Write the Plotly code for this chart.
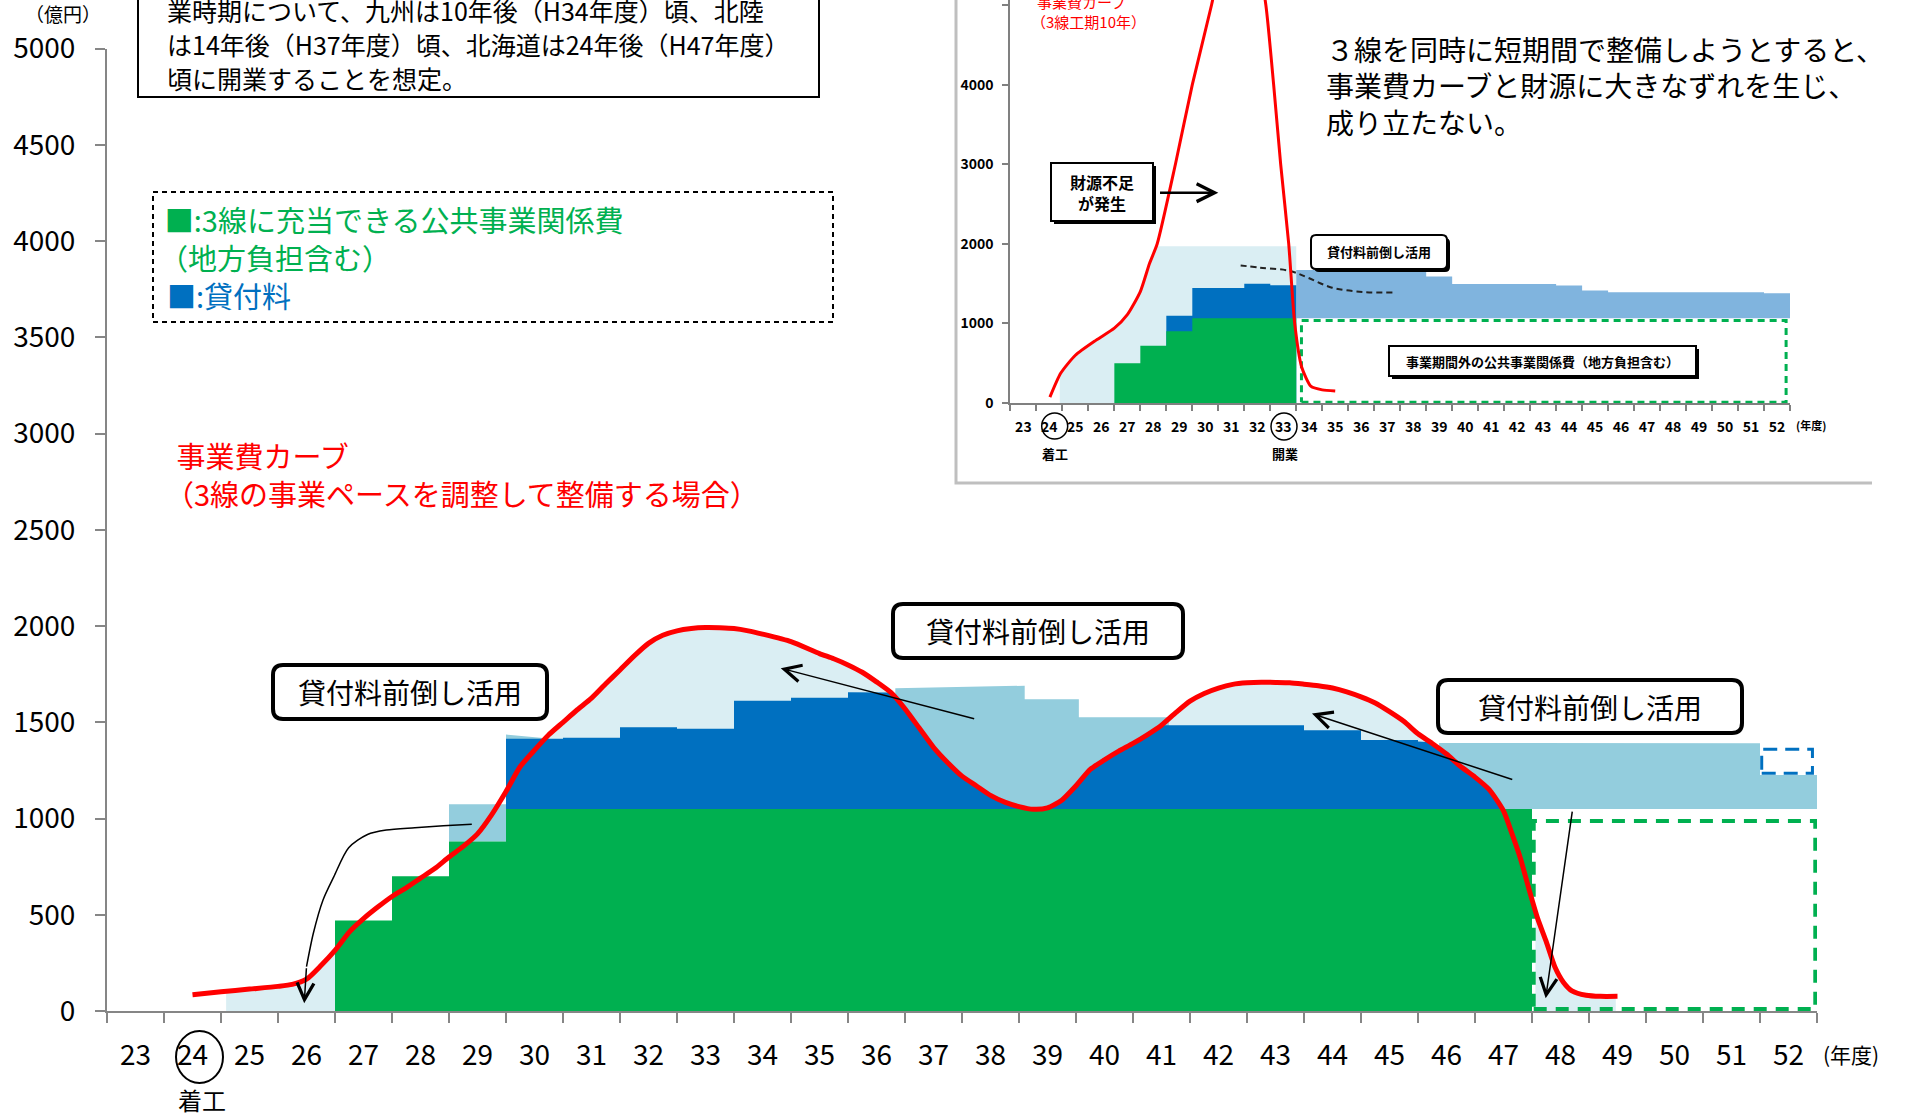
import numpy as np
import plotly.graph_objects as go

W, H = 1905, 1115
FONT = "Noto Sans CJK JP"

GREEN = "#00B050"
BLUE = "#0070C0"
MID = "#93CDDD"
PALE = "#DAEEF3"
INSET_MID = "#80B4DE"
RED = "#FF0000"
AXIS = "#868686"

# ================= main chart data =================
YEARS = list(range(23, 53))
YEAR_LABELS = [str(y) for y in YEARS]
Y_TICKS = [0, 500, 1000, 1500, 2000, 2500, 3000, 3500, 4000, 4500, 5000]

# 3線に充当できる公共事業関係費 (億円)
PUBLIC_YEARS = [27, 28, 29, 30, 31, 32, 33, 34, 35, 36, 37, 38, 39, 40, 41, 42, 43, 44, 45, 46, 47]
PUBLIC_VALUES = [470, 700, 880, 1050, 1050, 1050, 1050, 1050, 1050, 1050, 1050,
                 1050, 1050, 1050, 1050, 1050, 1050, 1050, 1050, 1050, 1050]

# 貸付料 (stacked on public works)
LOAN_YEARS = [30, 31, 32, 33, 34, 35, 36, 41, 42, 43, 44, 45, 46, 47]
LOAN_VALUES = [365, 370, 424, 416, 562, 578, 606, 435, 435, 435, 408, 358, 350, 350]

# 事業費カーブ (3線の事業ペースを調整して整備する場合)
CURVE_X = [24.0, 24.5, 25.0, 25.5, 25.75, 26.0, 26.25, 26.5, 26.75, 27.0, 27.25, 27.5, 27.75,
           28.0, 28.25, 28.5, 28.75, 29.0, 29.25, 29.5, 29.75, 30.0, 30.25, 30.5, 30.75,
           31.0, 31.25, 31.5, 31.75, 32.0, 32.25, 32.5, 32.75, 33.0, 33.25, 33.5, 33.75,
           34.0, 34.5, 35.0, 35.25, 35.5, 35.75, 36.0, 36.25, 36.5, 36.75, 37.0, 37.25,
           37.5, 37.75, 38.0, 38.25, 38.5, 38.75, 39.0, 39.25, 39.5, 39.75, 40.0, 40.25,
           40.5, 40.75, 41.0, 41.25, 41.5, 41.75, 42.0, 42.25, 42.5, 42.75, 43.0, 43.25,
           43.5, 43.75, 44.0, 44.25, 44.5, 44.75, 45.0, 45.25, 45.5, 45.75, 46.0, 46.25,
           46.5, 46.75, 47.0, 47.15, 47.3, 47.45, 47.6, 47.75, 47.9, 48.05, 48.2, 48.45,
           48.7, 49.0]
CURVE_Y = [85, 100, 114, 128, 138, 165, 235, 315, 410, 480, 540, 595, 640,
           690, 740, 800, 855, 920, 1020, 1140, 1270, 1355, 1435, 1500, 1565,
           1625, 1700, 1772, 1845, 1910, 1952, 1975, 1987, 1992, 1991, 1987, 1975,
           1958, 1919, 1857, 1830, 1798, 1760, 1710, 1655, 1570, 1470, 1370, 1290,
           1220, 1170, 1120, 1085, 1062, 1048, 1055, 1095, 1170, 1255, 1305, 1350,
           1390, 1435, 1485, 1550, 1610, 1650, 1678, 1697, 1705, 1708, 1707, 1705,
           1698, 1690, 1678, 1658, 1632, 1600, 1555, 1505, 1440, 1390, 1335, 1270,
           1215, 1150, 1040, 920, 790, 630, 480, 360, 230, 150, 105, 82,
           76, 76]

# 前倒し活用した貸付料 (areas)
MOVED_A_X = [28.5, 28.5, 29.5, 29.5]
MOVED_A_Y = [880, 1074, 1074, 880]
MOVED_B_X = [29.5, 29.5, 30.15, 30.15]
MOVED_B_Y = [1050, 1436, 1418, 1050]
MOVED_C_X = [36.33, 36.33, 38.6, 38.6, 39.55, 39.55, 41.13, 41.13]
MOVED_C_Y = [1050, 1677, 1690, 1619, 1619, 1526, 1526, 1050]
MOVED_D_X = [45.87, 45.87, 51.5, 51.5, 52.5, 52.5]
MOVED_D_Y = [1050, 1393, 1391, 1226, 1226, 1050]

# ranges where the curve area (above the bars) is shaded
PALE_SPANS = [(24.59, 26.5), (30.15, 36.35), (41.0, 45.9), (47.56, 48.97)]

# dashed boxes
OUT_BOX_X = [47.53, 52.47, 52.47, 47.53, 47.53]
OUT_BOX_Y = [10, 10, 987, 987, 10]
LOAN_BOX_X = [51.53, 52.42, 52.42, 51.53, 51.53]
LOAN_BOX_Y = [1235, 1235, 1360, 1360, 1235]

# arrows (tail -> head)
ARROWS = [((37.74, 1516), (34.32, 1781)),
          ((47.18, 1200), (43.64, 1545)),
          ((48.21, 1044), (47.74, 66))]
ARROW1_X = [28.9, 28.4, 27.9, 27.4, 27.07, 26.74, 26.48, 26.29, 26.12, 26.0]
ARROW1_Y = [970, 962, 952, 940, 917, 848, 698, 577, 404, 230]
ARROW1_HEAD = (25.96, 40)

# ================= inset data =================
IN_Y_TICKS = [0, 1000, 2000, 3000, 4000, 5000]
IN_CURVE_X = [24.02, 24.44, 25.0, 25.8, 26.5, 27.0, 27.5, 27.85, 28.15, 28.85, 29.5, 30.24,
              30.7, 31.3, 31.9, 32.33, 32.63, 32.9, 33.21, 33.44, 33.71, 34.07, 34.5, 35.0]
IN_CURVE_Y = [73, 376, 600, 790, 940, 1110, 1400, 1750, 2000, 3000, 4000, 5000,
              5700, 6200, 5800, 5000, 4000, 3000, 2000, 1000, 450, 208, 165, 150]
IN_PUBLIC_YEARS = [27, 28, 29, 30, 31, 32, 33]
IN_PUBLIC_VALUES = [500, 720, 900, 1065, 1065, 1065, 1065]
IN_LOAN_YEARS = [29, 30, 31, 32, 33]
IN_LOAN_TOPS = [1096, 1445, 1445, 1497, 1480]
IN_MOVED_YEARS = [34, 35, 36, 37, 38, 39, 40, 41, 42, 43, 44, 45, 46, 47, 48, 49, 50, 51, 52]
IN_MOVED_TOPS = [1670, 1670, 1670, 1670, 1670, 1590, 1495, 1495, 1495, 1495, 1477, 1413,
                 1392, 1392, 1392, 1392, 1392, 1392, 1380]
IN_MOVED_BASE = 1065
IN_PALE_CAP = 1968
IN_PALE_SPAN = (24.4, 33.5)
IN_BOX_X = [33.7, 52.35, 52.35, 33.7, 33.7]
IN_BOX_Y = [8, 8, 1037, 1037, 8]
IN_DASH_X = [37.2, 36.04, 34.88, 33.94, 33.25, 32.1, 31.2]
IN_DASH_Y = [1387, 1396, 1449, 1575, 1660, 1700, 1735]
IN_DASH_HEAD = (30.94, 1742)
IN_SHORT_ARROW = ((28.2, 2642), (30.5, 2642))


# ================= helpers =================
def curve_at(x):
    return np.interp(x, CURVE_X, CURVE_Y)


def step_edges(years, tops):
    xs, ys = [], []
    for yr, t in zip(years, tops):
        xs += [yr - 0.5, yr + 0.5]
        ys += [t, t]
    return xs, ys


def span_under(cx, cy, a, b):
    cx = np.asarray(cx, float)
    cy = np.asarray(cy, float)
    inner = (cx > a) & (cx < b)
    xs = [a] + list(cx[inner]) + [b]
    ys = [float(np.interp(a, cx, cy))] + list(cy[inner]) + [float(np.interp(b, cx, cy))]
    return xs, ys


def px(x):
    return x / W


def py(y):
    return 1 - y / H


def txt(x, y, s, size, color="black", xanchor="center", weight="normal", yanchor="middle"):
    return dict(x=px(x), y=py(y), xref="paper", yref="paper", text=s, showarrow=False,
                font=dict(family=FONT, size=size, color=color, weight=weight),
                xanchor=xanchor, yanchor=yanchor,
                align="left" if xanchor == "left" else "center")


def rrect(x0, y0, x1, y1, r):
    X0, X1 = x0 / W, x1 / W
    YB, YT = 1 - y1 / H, 1 - y0 / H
    rx, ry = r / W, r / H
    return (f"M{X0+rx},{YT} L{X1-rx},{YT} Q{X1},{YT} {X1},{YT-ry} "
            f"L{X1},{YB+ry} Q{X1},{YB} {X1-rx},{YB} L{X0+rx},{YB} Q{X0},{YB} {X0},{YB+ry} "
            f"L{X0},{YT-ry} Q{X0},{YT} {X0+rx},{YT} Z")


def fill_trace(x, y, color, fill="tozeroy", xa="x", ya="y"):
    return go.Scatter(x=x, y=y, mode="lines", line=dict(width=0, color=color), fill=fill,
                      fillcolor=color, hoverinfo="skip", xaxis=xa, yaxis=ya)


fig = go.Figure()

# ---------- main: pale area under curve ----------
for a, b in PALE_SPANS:
    xs, ys = span_under(CURVE_X, CURVE_Y, a, b)
    fig.add_trace(fill_trace(xs, ys, PALE))

# ---------- main: moved loan fee areas ----------
for mx, my in [(MOVED_A_X, MOVED_A_Y), (MOVED_B_X, MOVED_B_Y),
               (MOVED_C_X, MOVED_C_Y), (MOVED_D_X, MOVED_D_Y)]:
    fig.add_trace(fill_trace(mx, my, MID, fill="toself"))

# ---------- main: loan fee (dark blue) ----------
base = dict(zip(PUBLIC_YEARS, PUBLIC_VALUES))
loan = dict(zip(LOAN_YEARS, LOAN_VALUES))
bx, by = [], []
for yr in range(min(LOAN_YEARS), max(LOAN_YEARS) + 1):
    xs = np.linspace(yr - 0.5, yr + 0.5, 61)
    step = base[yr] + loan[yr] if yr in loan else np.inf
    if yr == min(LOAN_YEARS):
        tops = np.full_like(xs, step)
    else:
        tops = np.minimum(step, curve_at(xs))
    bx += list(xs)
    by += list(tops)
fig.add_trace(fill_trace(bx, by, BLUE))

# ---------- main: public works (green) ----------
gx, gy = step_edges(PUBLIC_YEARS, PUBLIC_VALUES)
fig.add_trace(fill_trace(gx, gy, GREEN))

# ---------- main: dashed boxes ----------
fig.add_trace(go.Scatter(x=OUT_BOX_X, y=OUT_BOX_Y, mode="lines",
                         line=dict(color=GREEN, width=4, dash="13px,9px"), hoverinfo="skip"))
fig.add_trace(go.Scatter(x=LOAN_BOX_X, y=LOAN_BOX_Y, mode="lines",
                         line=dict(color=BLUE, width=3, dash="14px,8px"), hoverinfo="skip"))

# ---------- main: curved arrow ----------
fig.add_trace(go.Scatter(x=ARROW1_X, y=ARROW1_Y, mode="lines",
                         line=dict(color="black", width=1.5, shape="spline", smoothing=0.8),
                         hoverinfo="skip"))

# ---------- main: red curve ----------
fig.add_trace(go.Scatter(x=CURVE_X, y=CURVE_Y, mode="lines",
                         line=dict(color=RED, width=5, shape="spline", smoothing=0.6),
                         hoverinfo="skip"))

# ================= inset traces =================
pa, pb = IN_PALE_SPAN
cx = np.asarray(IN_CURVE_X, float)
cy = np.asarray(IN_CURVE_Y, float)
cross = float(np.interp(IN_PALE_CAP, cy[:9], cx[:9]))
inner = (cx > pa) & (cx < cross)
ipx = [pa] + list(cx[inner]) + [cross, pb]
ipy = [float(np.interp(pa, cx, cy))] + list(cy[inner]) + [IN_PALE_CAP, IN_PALE_CAP]
fig.add_trace(fill_trace(ipx, ipy, PALE, xa="x2", ya="y2"))

mx, my = step_edges(IN_MOVED_YEARS, IN_MOVED_TOPS)
mx = mx + [mx[-1], mx[0]]
my = my + [IN_MOVED_BASE, IN_MOVED_BASE]
fig.add_trace(fill_trace(mx, my, INSET_MID, fill="toself", xa="x2", ya="y2"))

lx, ly = step_edges(IN_LOAN_YEARS, IN_LOAN_TOPS)
fig.add_trace(fill_trace(lx, ly, BLUE, xa="x2", ya="y2"))
ix, iy = step_edges(IN_PUBLIC_YEARS, IN_PUBLIC_VALUES)
fig.add_trace(fill_trace(ix, iy, GREEN, xa="x2", ya="y2"))

fig.add_trace(go.Scatter(x=IN_BOX_X, y=IN_BOX_Y, mode="lines", xaxis="x2", yaxis="y2",
                         line=dict(color=GREEN, width=3, dash="7px,5px"), hoverinfo="skip"))
fig.add_trace(go.Scatter(x=IN_DASH_X, y=IN_DASH_Y, mode="lines", xaxis="x2", yaxis="y2",
                         line=dict(color="#222222", width=2, dash="6px,4px", shape="spline"),
                         hoverinfo="skip"))
fig.add_trace(go.Scatter(x=IN_CURVE_X, y=IN_CURVE_Y, mode="lines", xaxis="x2", yaxis="y2",
                         line=dict(color=RED, width=3, shape="spline", smoothing=0.6),
                         hoverinfo="skip"))

# ================= axes =================
fig.update_layout(
    width=W, height=H, margin=dict(l=0, r=0, t=0, b=0, autoexpand=False),
    paper_bgcolor="white", plot_bgcolor="rgba(0,0,0,0)", showlegend=False,
    font=dict(family=FONT, color="black"),
    xaxis=dict(domain=[107 / W, 1817 / W], range=[22.5, 52.5], anchor="y", automargin=False,
               tickmode="array", tickvals=YEARS, ticktext=YEAR_LABELS, ticks="",
               tickangle=0, tickfont=dict(family=FONT, size=28, color="black"),
               ticklabelstandoff=18,
               minor=dict(tickmode="array", tickvals=[y - 0.5 for y in YEARS] + [52.5],
                          ticks="outside", ticklen=10, tickwidth=2, tickcolor=AXIS),
               showline=True, linecolor=AXIS, linewidth=2, showgrid=False, zeroline=False,
               fixedrange=True),
    yaxis=dict(domain=[1 - 1011 / H, 1 - 48.6 / H], range=[0, 5000], anchor="x",
               automargin=False,
               tickmode="array", tickvals=Y_TICKS, ticks="outside", ticklen=10, tickwidth=2,
               tickcolor=AXIS, tickfont=dict(family=FONT, size=28, color="black"),
               ticklabelstandoff=14,
               showline=True, linecolor=AXIS, linewidth=2, showgrid=False, zeroline=False,
               fixedrange=True),
    xaxis2=dict(domain=[1010.4 / W, 1790 / W], range=[22.5, 52.5], anchor="y2",
                automargin=False,
                tickmode="array", tickvals=YEARS, ticktext=YEAR_LABELS, ticks="",
                tickangle=0, tickfont=dict(family=FONT, size=14, color="black", weight="bold"),
                ticklabelstandoff=10,
                minor=dict(tickmode="array", tickvals=[y - 0.5 for y in YEARS] + [52.5],
                           ticks="outside", ticklen=6, tickwidth=1.5, tickcolor="#808080"),
                showline=True, linecolor="#808080", linewidth=2, showgrid=False,
                zeroline=False, fixedrange=True),
    yaxis2=dict(domain=[1 - 403 / H, 1.0], range=[0, 5063], anchor="x2", automargin=False,
                tickmode="array", tickvals=IN_Y_TICKS, ticks="outside", ticklen=6,
                tickwidth=1.5, tickcolor="#808080",
                tickfont=dict(family=FONT, size=14, color="black", weight="bold"),
                ticklabelstandoff=6,
                showline=True, linecolor="#808080", linewidth=2, showgrid=False,
                zeroline=False, fixedrange=True),
)

# ================= shapes =================
shapes = []
shapes.append(dict(type="path", xref="paper", yref="paper",
                   path=f"M{px(956)},{py(-5)} L{px(956)},{py(483)} L{px(1872)},{py(483)}",
                   line=dict(color="#BFBFBF", width=3), layer="below"))
shapes.append(dict(type="rect", xref="paper", yref="paper", x0=px(138), x1=px(819),
                   y0=py(97), y1=py(-10), line=dict(color="black", width=2)))
shapes.append(dict(type="rect", xref="paper", yref="paper", x0=px(153), x1=px(833),
                   y0=py(322), y1=py(192), line=dict(color="black", width=2, dash="5px,4px")))
MAIN_BOXES = [(273, 665, 547, 719), (893, 604, 1183, 658), (1438, 680, 1742, 733)]
for b in MAIN_BOXES:
    shapes.append(dict(type="path", xref="paper", yref="paper", path=rrect(*b, 10),
                       line=dict(color="black", width=4), fillcolor="white", layer="above"))
for (x0, y0, x1, y1) in [(1051, 163, 1153, 221), (1389, 346, 1696, 376)]:
    shapes.append(dict(type="rect", xref="paper", yref="paper", x0=px(x0 + 3), x1=px(x1 + 3),
                       y0=py(y1 + 3), y1=py(y0 + 3), line=dict(width=0), fillcolor="black",
                       layer="above"))
    shapes.append(dict(type="rect", xref="paper", yref="paper", x0=px(x0), x1=px(x1),
                       y0=py(y1), y1=py(y0), line=dict(color="black", width=2),
                       fillcolor="white", layer="above"))
shapes.append(dict(type="path", xref="paper", yref="paper",
                   path=rrect(1314, 238, 1450, 272, 5), line=dict(width=0),
                   fillcolor="black", layer="above"))
shapes.append(dict(type="path", xref="paper", yref="paper",
                   path=rrect(1311, 235, 1447, 269, 5), line=dict(color="black", width=2),
                   fillcolor="white", layer="above"))
for (x0, y0, x1, y1, w) in [(176, 1031, 223, 1083, 2), (1041.7, 413, 1067.7, 439, 1.5),
                            (1271, 413, 1297, 440, 1.5)]:
    shapes.append(dict(type="circle", xref="paper", yref="paper", x0=px(x0), x1=px(x1),
                       y0=py(y1), y1=py(y0), line=dict(color="black", width=w)))
fig.update_layout(shapes=shapes)

# ================= annotations =================
ann = []
for (tx, ty), (hx, hy) in ARROWS:
    ann.append(dict(x=hx, y=hy, ax=tx, ay=ty, xref="x", yref="y", axref="x", ayref="y",
                    showarrow=True, arrowhead=5, arrowsize=2.2, arrowwidth=1.5,
                    arrowcolor="black", text="", standoff=0))
ann.append(dict(x=ARROW1_HEAD[0], y=ARROW1_HEAD[1], ax=ARROW1_X[-1], ay=ARROW1_Y[-1],
                xref="x", yref="y", axref="x", ayref="y", showarrow=True, arrowhead=5,
                arrowsize=2.2, arrowwidth=1.5, arrowcolor="black", text="", standoff=0))
ann.append(dict(x=IN_DASH_HEAD[0], y=IN_DASH_HEAD[1], ax=IN_DASH_X[-1], ay=IN_DASH_Y[-1],
                xref="x2", yref="y2", axref="x2", ayref="y2", showarrow=True, arrowhead=5,
                arrowsize=1.6, arrowwidth=2, arrowcolor="#222222", text="", standoff=0))
(t0, t1), (h0, h1) = IN_SHORT_ARROW
ann.append(dict(x=h0, y=h1, ax=t0, ay=t1, xref="x2", yref="y2", axref="x2", ayref="y2",
                showarrow=True, arrowhead=5, arrowsize=1.4, arrowwidth=2.5,
                arrowcolor="black", text="", standoff=0))

# main texts
ann.append(txt(63, 14, "（億円）", 19))
ann.append(txt(1851, 1054, "(年度)", 21))
ann.append(txt(202, 1099, "着工", 24))
for (x0, y0, x1, y1) in MAIN_BOXES:
    ann.append(txt((x0 + x1) / 2, (y0 + y1) / 2, "貸付料前倒し活用", 28))
ann.append(txt(163, 474, "\u2009\u2009事業費カーブ<br>（3線の事業ペースを調整して整備する場合）",
               29, RED, "left"))
ann.append(txt(157, 238, "\u2009■:3線に充当できる公共事業関係費<br>（地方負担含む）", 29, GREEN,
               "left"))
ann.append(txt(165, 295, "■:貸付料", 29, BLUE, "left"))
ann.append(txt(165, 10, "業時期について、九州は10年後（H34年度）頃、北陸", 25, "black", "left"))
ann.append(txt(165, 44.5, "は14年後（H37年度）頃、北海道は24年後（H47年度）", 25, "black", "left"))
ann.append(txt(165, 78.5, "頃に開業することを想定。", 25, "black", "left"))
ann.append(txt(1324, 86, "３線を同時に短期間で整備しようとすると、<br>"
               "事業費カーブと財源に大きなずれを生じ、<br>成り立たない。", 28, "black", "left"))

# inset texts
ann.append(txt(1029, 12, "\u2009\u2009事業費カーブ<br>（3線工期10年）", 15, RED, "left"))
ann.append(txt(1102, 192, "財源不足<br>が発生", 16, "black", weight="bold"))
ann.append(txt(1379, 252, "貸付料前倒し活用", 13, "black", weight="bold"))
ann.append(txt(1542, 361, "事業期間外の公共事業関係費（地方負担含む）", 13, "black", weight="bold"))
ann.append(txt(1054.6, 453, "着工", 13, "black", weight="bold"))
ann.append(txt(1284.5, 453, "開業", 13, "black", weight="bold"))
ann.append(txt(1811, 425, "(年度)", 11, "black", weight="bold"))

fig.update_layout(annotations=ann)

fig.write_html("out.html")
